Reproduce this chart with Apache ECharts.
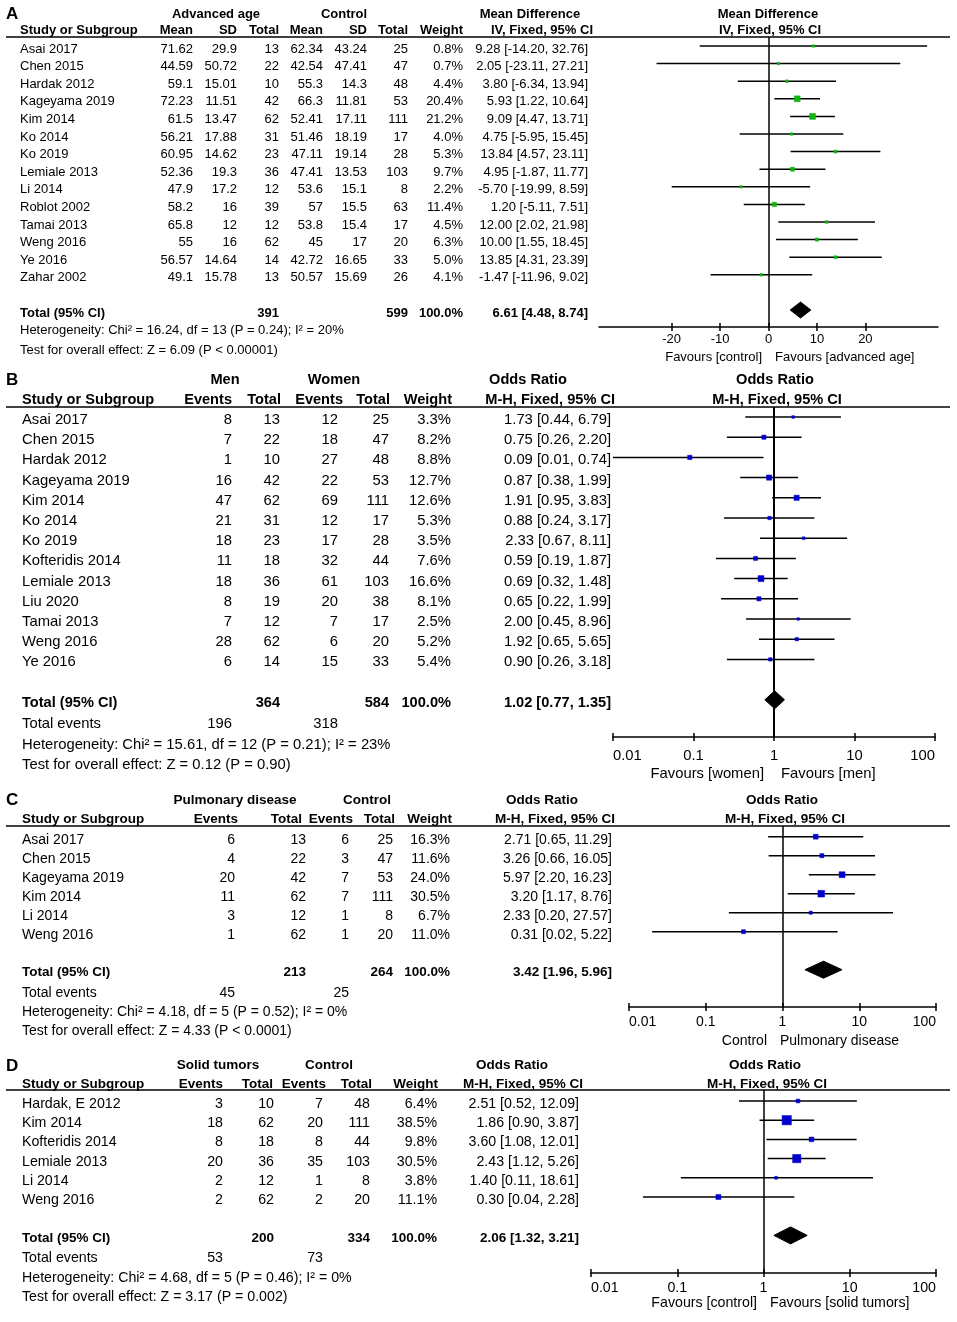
<!DOCTYPE html>
<html><head><meta charset="utf-8">
<script src="https://cdn.jsdelivr.net/npm/echarts@6/dist/echarts.min.js"></script>
<style>html,body{margin:0;padding:0;background:#fff}#c{width:957px;height:1322px}</style>
</head><body><div id="c"></div>
<script>
const FONT = '"Liberation Sans", Arial, Helvetica, sans-serif';

// ---------- Panel A: Advanced age vs Control (Mean Difference, IV, Fixed) ----------
const aStudies = ['Asai 2017','Chen 2015','Hardak 2012','Kageyama 2019','Kim 2014','Ko 2014','Ko 2019','Lemiale 2013','Li 2014','Roblot 2002','Tamai 2013','Weng 2016','Ye 2016','Zahar 2002'];
const aAdvMean = [71.62,44.59,59.1,72.23,61.5,56.21,60.95,52.36,47.9,58.2,65.8,55,56.57,49.1];
const aAdvSD   = [29.9,50.72,15.01,11.51,13.47,17.88,14.62,19.3,17.2,16,12,16,14.64,15.78];
const aAdvN    = [13,22,10,42,62,31,23,36,12,39,12,62,14,13];
const aCtlMean = [62.34,42.54,55.3,66.3,52.41,51.46,47.11,47.41,53.6,57,53.8,45,42.72,50.57];
const aCtlSD   = [43.24,47.41,14.3,11.81,17.11,18.19,19.14,13.53,15.1,15.5,15.4,17,16.65,15.69];
const aCtlN    = [25,47,48,53,111,17,28,103,8,63,17,20,33,26];
const aWeight  = [0.8,0.7,4.4,20.4,21.2,4.0,5.3,9.7,2.2,11.4,4.5,6.3,5.0,4.1];
const aEst = [9.28,2.05,3.80,5.93,9.09,4.75,13.84,4.95,-5.70,1.20,12.00,10.00,13.85,-1.47];
const aLo  = [-14.20,-23.11,-6.34,1.22,4.47,-5.95,4.57,-1.87,-19.99,-5.11,2.02,1.55,4.31,-11.96];
const aHi  = [32.76,27.21,13.94,10.64,13.71,15.45,23.11,11.77,8.59,7.51,21.98,18.45,23.39,9.02];
const aTotalN = [391, 599];
const aTotalCI = [6.61, 4.48, 8.74];
const aHet = 'Heterogeneity: Chi² = 16.24, df = 13 (P = 0.24); I² = 20%';
const aTest = 'Test for overall effect: Z = 6.09 (P < 0.00001)';
const aTicks = [-20, -10, 0, 10, 20];

// ---------- Panel B: Men vs Women (Odds Ratio, M-H, Fixed) ----------
const bStudies = ['Asai 2017','Chen 2015','Hardak 2012','Kageyama 2019','Kim 2014','Ko 2014','Ko 2019','Kofteridis 2014','Lemiale 2013','Liu 2020','Tamai 2013','Weng 2016','Ye 2016'];
const bMenE   = [8,7,1,16,47,21,18,11,18,8,7,28,6];
const bMenN   = [13,22,10,42,62,31,23,18,36,19,12,62,14];
const bWomE   = [12,18,27,22,69,12,17,32,61,20,7,6,15];
const bWomN   = [25,47,48,53,111,17,28,44,103,38,17,20,33];
const bWeight = [3.3,8.2,8.8,12.7,12.6,5.3,3.5,7.6,16.6,8.1,2.5,5.2,5.4];
const bEst = [1.73,0.75,0.09,0.87,1.91,0.88,2.33,0.59,0.69,0.65,2.00,1.92,0.90];
const bLo  = [0.44,0.26,0.01,0.38,0.95,0.24,0.67,0.19,0.32,0.22,0.45,0.65,0.26];
const bHi  = [6.79,2.20,0.74,1.99,3.83,3.17,8.11,1.87,1.48,1.99,8.96,5.65,3.18];
const bTotalN = [364, 584];
const bTotalEvents = [196, 318];
const bTotalCI = [1.02, 0.77, 1.35];
const bHet = 'Heterogeneity: Chi² = 15.61, df = 12 (P = 0.21); I² = 23%';
const bTest = 'Test for overall effect: Z = 0.12 (P = 0.90)';

// ---------- Panel C: Pulmonary disease vs Control ----------
const cStudies = ['Asai 2017','Chen 2015','Kageyama 2019','Kim 2014','Li 2014','Weng 2016'];
const cPulE = [6,4,20,11,3,1];
const cPulN = [13,22,42,62,12,62];
const cCtlE = [6,3,7,7,1,1];
const cCtlN = [25,47,53,111,8,20];
const cWeight = [16.3,11.6,24.0,30.5,6.7,11.0];
const cEst = [2.71,3.26,5.97,3.20,2.33,0.31];
const cLo  = [0.65,0.66,2.20,1.17,0.20,0.02];
const cHi  = [11.29,16.05,16.23,8.76,27.57,5.22];
const cTotalN = [213, 264];
const cTotalEvents = [45, 25];
const cTotalCI = [3.42, 1.96, 5.96];
const cHet = 'Heterogeneity: Chi² = 4.18, df = 5 (P = 0.52); I² = 0%';
const cTest = 'Test for overall effect: Z = 4.33 (P < 0.0001)';

// ---------- Panel D: Solid tumors vs Control ----------
const dStudies = ['Hardak, E 2012','Kim 2014','Kofteridis 2014','Lemiale 2013','Li 2014','Weng 2016'];
const dSolE = [3,18,8,20,2,2];
const dSolN = [10,62,18,36,12,62];
const dCtlE = [7,20,8,35,1,2];
const dCtlN = [48,111,44,103,8,20];
const dWeight = [6.4,38.5,9.8,30.5,3.8,11.1];
const dEst = [2.51,1.86,3.60,2.43,1.40,0.30];
const dLo  = [0.52,0.90,1.08,1.12,0.11,0.04];
const dHi  = [12.09,3.87,12.01,5.26,18.61,2.28];
const dTotalN = [200, 334];
const dTotalEvents = [53, 73];
const dTotalCI = [2.06, 1.32, 3.21];
const dHet = 'Heterogeneity: Chi² = 4.68, df = 5 (P = 0.46); I² = 0%';
const dTest = 'Test for overall effect: Z = 3.17 (P = 0.002)';

const orTicks = [0.01, 0.1, 1, 10, 100];
const totalWeight = 100.0;

// ---------- assemble panels (data) ----------
const panels = [
  { letter:'A', h1:['Advanced age','Control','Mean Difference','Mean Difference'],
    headers:['Mean','SD','Total','Mean','SD','Total','Weight','IV, Fixed, 95% CI'], plotH2:'IV, Fixed, 95% CI',
    studies:aStudies, cols:[aAdvMean,aAdvSD,aAdvN,aCtlMean,aCtlSD,aCtlN], weight:aWeight, est:aEst, lo:aLo, hi:aHi,
    totalN:aTotalN, totalEvents:null, totalCI:aTotalCI, het:aHet, test:aTest,
    fav:['Favours [control]','Favours [advanced age]'], log:false, ref:0, ticks:aTicks, xMin:-35, xMax:35 },
  { letter:'B', h1:['Men','Women','Odds Ratio','Odds Ratio'],
    headers:['Events','Total','Events','Total','Weight','M-H, Fixed, 95% CI'], plotH2:'M-H, Fixed, 95% CI',
    studies:bStudies, cols:[bMenE,bMenN,bWomE,bWomN], weight:bWeight, est:bEst, lo:bLo, hi:bHi,
    totalN:bTotalN, totalEvents:bTotalEvents, totalCI:bTotalCI, het:bHet, test:bTest,
    fav:['Favours [women]','Favours [men]'], log:true, ref:1, ticks:orTicks, xMin:0.01, xMax:100 },
  { letter:'C', h1:['Pulmonary disease','Control','Odds Ratio','Odds Ratio'],
    headers:['Events','Total','Events','Total','Weight','M-H, Fixed, 95% CI'], plotH2:'M-H, Fixed, 95% CI',
    studies:cStudies, cols:[cPulE,cPulN,cCtlE,cCtlN], weight:cWeight, est:cEst, lo:cLo, hi:cHi,
    totalN:cTotalN, totalEvents:cTotalEvents, totalCI:cTotalCI, het:cHet, test:cTest,
    fav:['Control','Pulmonary disease'], log:true, ref:1, ticks:orTicks, xMin:0.01, xMax:100 },
  { letter:'D', h1:['Solid tumors','Control','Odds Ratio','Odds Ratio'],
    headers:['Events','Total','Events','Total','Weight','M-H, Fixed, 95% CI'], plotH2:'M-H, Fixed, 95% CI',
    studies:dStudies, cols:[dSolE,dSolN,dCtlE,dCtlN], weight:dWeight, est:dEst, lo:dLo, hi:dHi,
    totalN:dTotalN, totalEvents:dTotalEvents, totalCI:dTotalCI, het:dHet, test:dTest,
    fav:['Favours [control]','Favours [solid tumors]'], log:true, ref:1, ticks:orTicks, xMin:0.01, xMax:100 }
];

// ---------- layout (pixels / styles) ----------
const layouts = [
  { fs:13, hfs:13, letterY:14, h1Y:14, h1X:[216,344,530,768], h2Y:30, h2Rights:[193,237,279,323,367,408,463,593], plotH2X:770,
    lineY:37, row0:46, rowH:17.6, totalRow:15, totalNCols:[2,5], eventsCols:null, eventsY:0, hetY:330, testY:350, studyX:20,
    colRights:[193,237,279,323,367,408,463,588], left:599, right:938, axisY:327, margin:6, favY:357, favLX:762, favRX:775,
    color:'#10b410', k:1.3, refW:1.5, dh:8 },
  { fs:14.8, hfs:14.6, letterY:380, h1Y:380, h1X:[225,334,528,775], h2Y:400, h2Rights:[232,281,343,390,452,615], plotH2X:777,
    lineY:407, row0:417, rowH:20.2, totalRow:14, totalNCols:[1,3], eventsCols:[0,2], eventsY:724, hetY:745, testY:765, studyX:22,
    colRights:[232,280,338,389,451,611], left:613, right:935, axisY:737, margin:11, favY:774, favLX:764, favRX:781,
    color:'#0000cc', k:1.47, refW:2, dh:9 },
  { fs:14, hfs:13.5, letterY:800, h1Y:800, h1X:[235,367,542,782], h2Y:819, h2Rights:[238,302,353,395,452,615], plotH2X:785,
    lineY:826, row0:836.7, rowH:19, totalRow:7, totalNCols:[1,3], eventsCols:[0,2], eventsY:993, hetY:1012, testY:1031, studyX:22,
    colRights:[235,306,349,393,450,612], left:629, right:936, axisY:1007, margin:8, favY:1041, favLX:767, favRX:780,
    color:'#0000cc', k:1.21, refW:1.5, dh:8.5 },
  { fs:14.2, hfs:13.5, letterY:1066, h1Y:1065, h1X:[218,329,512,765], h2Y:1084, h2Rights:[223,273,326,372,438,583], plotH2X:767,
    lineY:1090, row0:1101, rowH:19.2, totalRow:7, totalNCols:[1,3], eventsCols:[0,2], eventsY:1258, hetY:1278, testY:1297, studyX:22,
    colRights:[223,274,323,370,437,579], left:591, right:936, axisY:1273, margin:8, favY:1303, favLX:757, favRX:770,
    color:'#0000cc', k:1.5, refW:1.5, dh:8.5 }
];
const TOFF = 3;

function txt(t, x, y, align, bold, size) {
  const a = align || 'left';
  return { type:'text', x:x, y:y, silent:true,
    style:{ text:String(t), fill:'#000', font:(bold ? 'bold ' : '') + (size || 13) + 'px ' + FONT,
            textAlign:a, textVerticalAlign:'middle', align:a, verticalAlign:'middle' } };
}
function ci(e, l, h) { return e.toFixed(2) + ' [' + l.toFixed(2) + ', ' + h.toFixed(2) + ']'; }
function fmtTick(v) { return String(+(+v).toPrecision(6)); }

const graphics = [], grids = [], xAxes = [], yAxes = [], series = [];

panels.forEach((P, g) => {
  const L = layouts[g];
  const fs = L.fs, hfs = L.hfs;
  graphics.push(txt(P.letter, 6, L.letterY, 'left', true, 17));
  P.h1.forEach((t, j) => graphics.push(txt(t, L.h1X[j], L.h1Y, 'center', true, hfs)));
  graphics.push(txt('Study or Subgroup', L.studyX, L.h2Y, 'left', true, hfs));
  P.headers.forEach((t, j) => graphics.push(txt(t, L.h2Rights[j], L.h2Y, 'right', true, hfs)));
  graphics.push(txt(P.plotH2, L.plotH2X, L.h2Y, 'center', true, hfs));
  graphics.push({ type:'line', silent:true, shape:{x1:6, y1:L.lineY, x2:950, y2:L.lineY}, style:{stroke:'#000', lineWidth:1.5} });
  const nc = P.cols.length;
  P.studies.forEach((s, i) => {
    const y = L.row0 + L.rowH * i + TOFF;
    graphics.push(txt(s, L.studyX, y, 'left', false, fs));
    P.cols.forEach((col, j) => graphics.push(txt(col[i], L.colRights[j], y, 'right', false, fs)));
    graphics.push(txt(P.weight[i].toFixed(1) + '%', L.colRights[nc], y, 'right', false, fs));
    graphics.push(txt(ci(P.est[i], P.lo[i], P.hi[i]), L.colRights[nc + 1], y, 'right', false, fs));
  });
  const ty = L.row0 + L.rowH * L.totalRow + TOFF;
  graphics.push(txt('Total (95% CI)', L.studyX, ty, 'left', true, hfs));
  L.totalNCols.forEach((j, k) => graphics.push(txt(P.totalN[k], L.colRights[j], ty, 'right', true, hfs)));
  graphics.push(txt(totalWeight.toFixed(1) + '%', L.colRights[nc], ty, 'right', true, hfs));
  graphics.push(txt(ci(P.totalCI[0], P.totalCI[1], P.totalCI[2]), L.colRights[nc + 1], ty, 'right', true, hfs));
  if (P.totalEvents) {
    graphics.push(txt('Total events', L.studyX, L.eventsY, 'left', false, fs));
    L.eventsCols.forEach((j, k) => graphics.push(txt(P.totalEvents[k], L.colRights[j], L.eventsY, 'right', false, fs)));
  }
  graphics.push(txt(P.het, L.studyX, L.hetY, 'left', false, fs));
  graphics.push(txt(P.test, L.studyX, L.testY, 'left', false, fs));
  graphics.push(txt(P.fav[0], L.favLX, L.favY, 'right', false, fs));
  graphics.push(txt(P.fav[1], L.favRX, L.favY, 'left', false, fs));

  grids.push({ left:L.left, top:L.lineY, width:L.right - L.left, height:L.axisY - L.lineY, containLabel:false });
  const vMin = (L.lineY - L.row0) / L.rowH, vMax = (L.axisY - L.row0) / L.rowH;
  const base = { gridIndex:g, type:P.log ? 'log' : 'value', min:P.xMin, max:P.xMax, position:'bottom', splitLine:{show:false} };
  if (P.log) base.logBase = 10;
  xAxes.push(Object.assign({}, base, {
    axisLine:{show:true, onZero:false, lineStyle:{color:'#000', width:1.5}},
    axisTick:{show:true, inside:false, length:4, lineStyle:{color:'#000', width:1.5}, customValues:P.ticks},
    axisLabel:{show:true, color:'#000', fontSize:fs, fontFamily:FONT, margin:L.margin, customValues:P.ticks,
      formatter:fmtTick, showMinLabel:true, showMaxLabel:true,
      alignMinLabel:P.log ? 'left' : 'center', alignMaxLabel:P.log ? 'right' : 'center'}
  }));
  xAxes.push(Object.assign({}, base, {
    axisLine:{show:false, onZero:false},
    axisTick:{show:true, inside:true, length:4, lineStyle:{color:'#000', width:1.5}, customValues:P.ticks},
    axisLabel:{show:false}
  }));
  yAxes.push({ gridIndex:g, type:'value', inverse:true, min:vMin, max:vMax, show:false, splitLine:{show:false} });

  const color = L.color, kk = L.k, dh = L.dh;
  series.push({
    type:'custom', coordinateSystem:'cartesian2d', xAxisIndex:2 * g, yAxisIndex:g, silent:true, z:3,
    data:P.studies.map((s, i) => [P.est[i], P.lo[i], P.hi[i], i, P.weight[i]]),
    encode:{x:[0,1,2], y:3},
    renderItem:function (params, api) {
      const r = api.value(3);
      const pl = api.coord([api.value(1), r]), ph = api.coord([api.value(2), r]), pe = api.coord([api.value(0), r]);
      const s = Math.max(2.5, kk * Math.sqrt(api.value(4)));
      return { type:'group', children:[
        { type:'line', shape:{x1:pl[0], y1:pl[1], x2:ph[0], y2:ph[1]}, style:{stroke:'#000', lineWidth:1.5} },
        { type:'rect', shape:{x:pe[0] - s / 2, y:pe[1] - s / 2, width:s, height:s}, style:{fill:color, stroke:color, lineWidth:0.5} }
      ]};
    },
    markLine:{ silent:true, symbol:['none','none'], animation:false, label:{show:false},
      lineStyle:{color:'#000', width:L.refW, type:'solid'}, emphasis:{disabled:true},
      data:[{xAxis:P.ref}] }
  });
  series.push({
    type:'custom', coordinateSystem:'cartesian2d', xAxisIndex:2 * g, yAxisIndex:g, silent:true, z:4,
    data:[[P.totalCI[0], P.totalCI[1], P.totalCI[2], L.totalRow]],
    encode:{x:[0,1,2], y:3},
    renderItem:function (params, api) {
      const r = api.value(3);
      const pl = api.coord([api.value(1), r]), ph = api.coord([api.value(2), r]), pe = api.coord([api.value(0), r]);
      return { type:'polygon', shape:{points:[[pl[0], pl[1]], [pe[0], pe[1] - dh], [ph[0], ph[1]], [pe[0], pe[1] + dh]]},
        style:{fill:'#000', stroke:'#000', lineWidth:1} };
    }
  });
});

const chart = echarts.init(document.getElementById('c'), null, {renderer:'canvas'});
chart.setOption({
  animation:false,
  backgroundColor:'#fff',
  grid:grids, xAxis:xAxes, yAxis:yAxes, series:series,
  graphic:{elements:graphics}
});
</script>
</body></html>
